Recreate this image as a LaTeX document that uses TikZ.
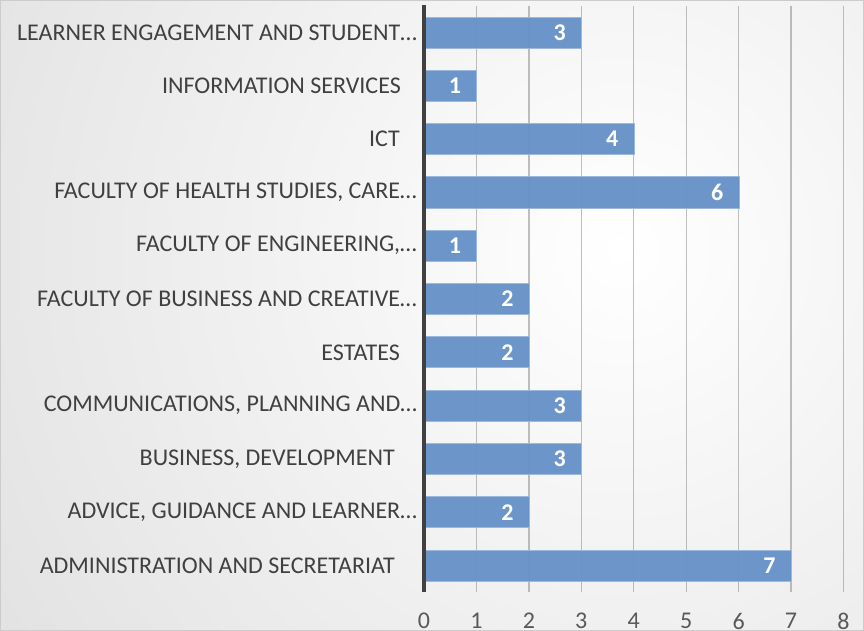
\documentclass[tikz,border=0pt]{standalone}
\usepackage{fontspec}
\setmainfont{Carlito}
\usetikzlibrary{positioning}
\definecolor{barblue}{HTML}{6591C7}
\definecolor{baredge}{HTML}{9DB8DD}
\definecolor{labgray}{HTML}{404040}
\definecolor{tickgray}{HTML}{595959}
\begin{document}
\begin{tikzpicture}
  [x=1pt,y=-1pt,
   every node/.style={font=\fontsize{24}{28}\selectfont},
   lab/.style={anchor=east,text=labgray,inner sep=0pt},
   bar/.style={anchor=west,fill=barblue,draw=baredge,line width=0.8pt,
     minimum height=31pt,inner sep=0pt,fill opacity=0.95},
   val/.style={text=white,inner sep=0pt,anchor=east,
     font=\fontsize{24}{28}\selectfont\bfseries},
   tick/.style={text=tickgray,inner sep=0pt},
   grid/.style={black!45,line width=1.2pt,opacity=0.55}]
\useasboundingbox (0,0) rectangle (864,631);
% background
\begin{scope}
  \clip (0,0) rectangle (864,631);
  \shade[inner color=white,outer color=black!23] (-880,-1250) rectangle (2120,1750);
\end{scope}
\draw[black!20,line width=1pt] (0.5,0.5) rectangle (863.5,630.5);

% grid lines and ticks
\draw[grid] (476.4,6) -- (476.4,592);
\draw[grid] (528.9,6) -- (528.9,592);
\draw[grid] (581.3,6) -- (581.3,592);
\draw[grid] (633.7,6) -- (633.7,592);
\draw[grid] (686.2,6) -- (686.2,592);
\draw[grid] (738.6,6) -- (738.6,592);
\draw[grid] (791.0,6) -- (791.0,592);
\draw[grid] (843.4,6) -- (843.4,592);

\node (t0)[tick] at (424,621) {0};
\node (t1)[tick] at (476.4,621) {1};
\node (t2)[tick] at (528.9,621) {2};
\node (t3)[tick] at (581.3,621) {3};
\node (t4)[tick] at (633.7,621) {4};
\node (t5)[tick] at (686.2,621) {5};
\node (t6)[tick] at (738.6,621) {6};
\node (t7)[tick] at (791.0,621) {7};
\node (t8)[tick] at (843.4,621) {8};

% bars
\node (b1)[bar,minimum width=3*52.43pt] at (424,32.5) {};
\node (b2)[bar,minimum width=1*52.43pt] at (424,85.8) {};
\node (b3)[bar,minimum width=4*52.43pt] at (424,139.1) {};
\node (b4)[bar,minimum width=6*52.43pt] at (424,192.4) {};
\node (b5)[bar,minimum width=1*52.43pt] at (424,245.7) {};
\node (b6)[bar,minimum width=2*52.43pt] at (424,299.0) {};
\node (b7)[bar,minimum width=2*52.43pt] at (424,352.3) {};
\node (b8)[bar,minimum width=3*52.43pt] at (424,405.6) {};
\node (b9)[bar,minimum width=3*52.43pt] at (424,458.9) {};
\node (b10)[bar,minimum width=2*52.43pt] at (424,512.2) {};
\node (b11)[bar,minimum width=7*52.43pt] at (424,565.5) {};

\node (v1)[val,left=16pt of b1.east] {3};
\node (v2)[val,left=16pt of b2.east] {1};
\node (v3)[val,left=16pt of b3.east] {4};
\node (v4)[val,left=16pt of b4.east] {6};
\node (v5)[val,left=16pt of b5.east] {1};
\node (v6)[val,left=16pt of b6.east] {2};
\node (v7)[val,left=16pt of b7.east] {2};
\node (v8)[val,left=16pt of b8.east] {3};
\node (v9)[val,left=16pt of b9.east] {3};
\node (v10)[val,left=16pt of b10.east] {2};
\node (v11)[val,left=16pt of b11.east] {7};

% category labels
\node (l1)[lab] at (417,32.5) {LEARNER ENGAGEMENT AND STUDENT…};
\node (l2)[lab] at (401,85.8) {INFORMATION SERVICES};
\node (l3)[lab] at (400,139.1) {ICT};
\node (l4)[lab] at (417,192.4) {FACULTY OF HEALTH STUDIES, CARE…};
\node (l5)[lab] at (417,245.7) {FACULTY OF ENGINEERING,…};
\node (l6)[lab] at (417,299.0) {FACULTY OF BUSINESS AND CREATIVE…};
\node (l7)[lab] at (400,352.3) {ESTATES};
\node (l8)[lab] at (417,405.6) {COMMUNICATIONS, PLANNING AND…};
\node (l9)[lab] at (395,458.9) {BUSINESS, DEVELOPMENT};
\node (l10)[lab] at (417,512.2) {ADVICE, GUIDANCE AND LEARNER…};
\node (l11)[lab] at (395,565.5) {ADMINISTRATION AND SECRETARIAT};

% axis
\draw[labgray,line width=3.5pt] (424,5) -- (424,592);
\end{tikzpicture}
\end{document}
